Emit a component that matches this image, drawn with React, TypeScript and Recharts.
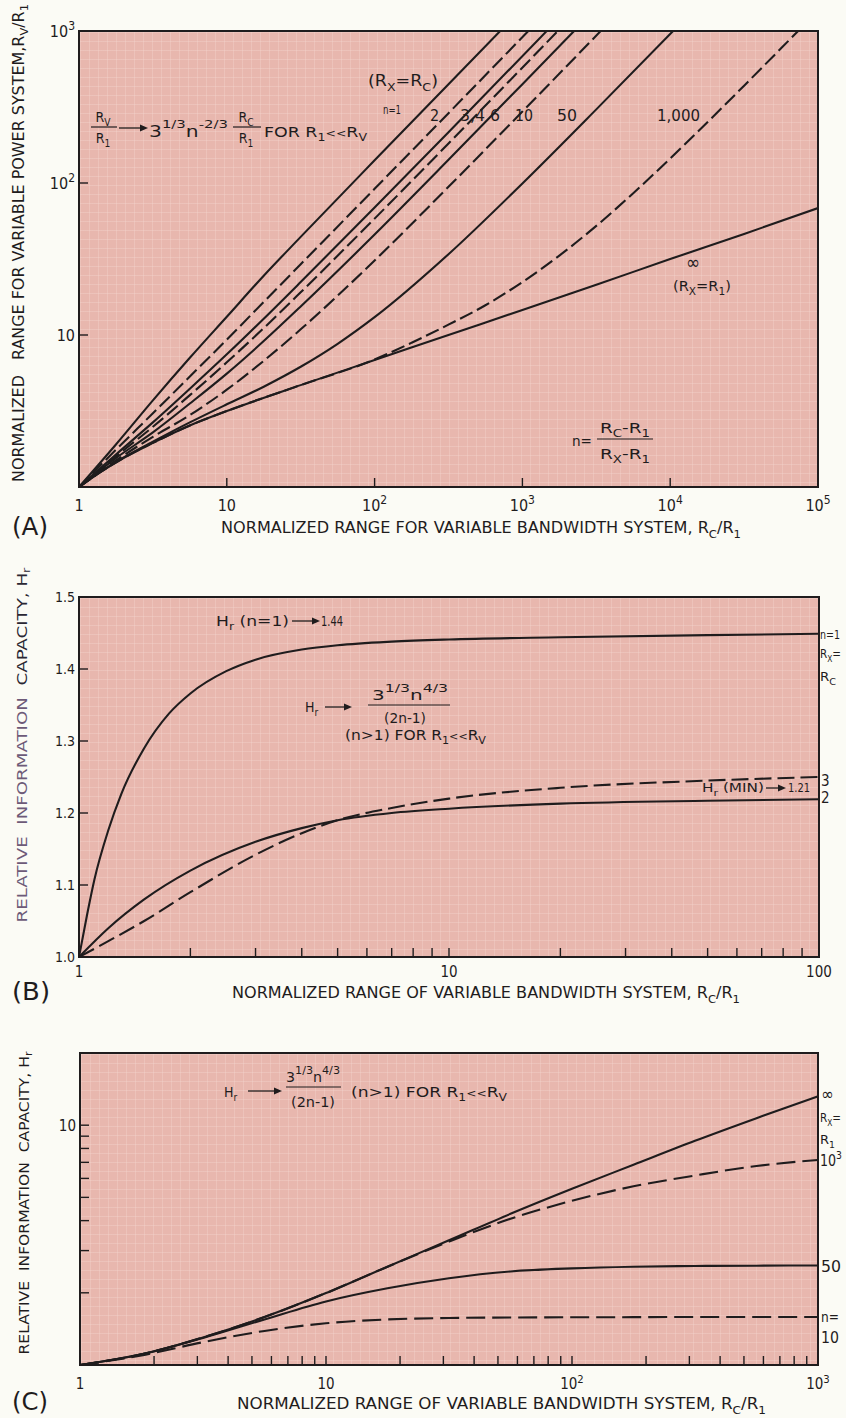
import React from "react";
import { LineChart, Line, XAxis, YAxis } from "recharts";

const INK = "#1f1c1d";
const PAPER = "#e8b7ae";
const FONT =
  '"DejaVu Sans Condensed", "Liberation Sans Narrow", "Roboto Condensed", "DejaVu Sans", sans-serif';

// ---------- (A) normalized range, variable power vs variable bandwidth ----------
const aMajorX = [1, 10, 100, 1000, 10000, 100000];
const aMajorXLabels = ["1", "10", "10^2", "10^3", "10^4", "10^5"];
const aMajorY = [10, 100, 1000];
const aMajorYLabels = ["10", "10^2", "10^3"];

const aN1Rc = [1, 1.778, 3.162, 5.623, 10, 17.78, 31.62, 100, 316.2, 724];
const aN1Rv = [1, 1.905, 3.715, 7.08, 13.18, 24.55, 44.2, 141, 447, 1023];
const aN2Rc = [1, 1.778, 3.162, 5.623, 10, 17.78, 31.62, 100, 316.2, 1122];
const aN2Rv = [1, 1.758, 3.055, 5.33, 9.33, 16.5, 29.2, 91.6, 288, 1023];
const aN3Rc = [1, 1.778, 3.162, 5.623, 10, 17.78, 31.62, 100, 316.2, 1479];
const aN3Rv = [1, 1.637, 2.661, 4.43, 7.46, 12.8, 22.3, 69.0, 216, 1012];
const aN4Rc = [1, 1.778, 3.162, 5.623, 10, 17.78, 31.62, 100, 316.2, 1758];
const aN4Rv = [1, 1.589, 2.489, 4.02, 6.61, 11.1, 19.1, 58.3, 182, 1012];
const aN6Rc = [1, 1.778, 3.162, 5.623, 10, 17.78, 31.62, 100, 316.2, 1000, 2265];
const aN6Rv = [1, 1.549, 2.286, 3.54, 5.57, 9.12, 15.4, 45.8, 142, 447, 1012];
const aN10Rc = [1, 1.778, 3.162, 5.623, 10, 17.78, 31.62, 100, 316.2, 1000, 3428];
const aN10Rv = [1, 1.496, 2.138, 2.97, 4.365, 6.76, 10.9, 30.9, 94.4, 295, 1012];
const aN50Rc = [1, 1.778, 3.162, 5.623, 10, 17.78, 31.62, 56.23, 100, 316.2, 1000, 3162, 11220];
const aN50Rv = [1, 1.462, 1.986, 2.66, 3.5, 4.57, 6.18, 8.75, 13.1, 34.0, 99.3, 305, 1072];
const aN1000Rc = [1, 1.41, 2, 3.16, 5.62, 10, 31.6, 100, 178, 316, 562, 1000, 1778, 3162, 5623, 10000, 17783, 31623, 56234, 79433];
const aN1000Rv = [1, 1.26, 1.55, 1.95, 2.54, 3.16, 4.68, 6.9, 8.9, 11.7, 15.7, 22.3, 33.3, 52.2, 85.7, 145, 250, 437, 769, 1081];
const aInfRc = [1, 1.41, 2, 3.16, 5.62, 10, 31.6, 100, 316, 1000, 3162, 10000, 31623, 100000];
const aInfRv = [1, 1.26, 1.55, 1.95, 2.54, 3.16, 4.68, 6.84, 10, 14.6, 21.4, 31.6, 46.2, 68.4];

// ---------- (B) relative information capacity, small n ----------
const bMajorX = [1, 10, 100];
const bMajorXLabels = ["1", "10", "100"];
const bMinorX = [2, 3, 4, 5, 6, 7, 8, 9, 20, 30, 40, 50, 60, 70, 80, 90];
const bMajorY = [1.0, 1.1, 1.2, 1.3, 1.4, 1.5];
const bMajorYLabels = ["1.0", "1.1", "1.2", "1.3", "1.4", "1.5"];

const bN1Rc = [1, 1.05, 1.1, 1.2, 1.3, 1.5, 1.75, 2, 2.5, 3, 4, 5, 7, 10, 20, 50, 100];
const bN1H = [1.0, 1.057, 1.107, 1.176, 1.226, 1.29, 1.338, 1.366, 1.397, 1.413, 1.427, 1.433, 1.438, 1.441, 1.444, 1.447, 1.449];
const bRc = [1, 1.2, 1.5, 2, 3, 4, 5, 7, 10, 20, 50, 100];
const bN2H = [1.0, 1.04, 1.08, 1.12, 1.16, 1.179, 1.19, 1.2, 1.206, 1.213, 1.217, 1.219];
const bN3H = [1.0, 1.022, 1.05, 1.09, 1.142, 1.172, 1.19, 1.207, 1.22, 1.235, 1.245, 1.25];

// ---------- (C) relative information capacity, large n ----------
const cMajorX = [1, 10, 100, 1000];
const cMajorXLabels = ["1", "10", "10^2", "10^3"];
const cMinorX = [2, 3, 4, 5, 6, 7, 8, 9, 20, 30, 40, 50, 60, 70, 80, 90, 200, 300, 400, 500, 600, 700, 800, 900];
const cMajorY = [10];
const cMajorYLabels = ["10"];
const cMinorY = [2, 3, 4, 5, 6, 7, 8, 9];

const cRc = [1, 1.778, 3.162, 5.623, 10, 17.78, 31.62, 56.23, 100, 177.8, 316.2, 562.3, 1000];
const cInfH = [1, 1.109, 1.303, 1.585, 1.995, 2.57, 3.31, 4.27, 5.43, 6.84, 8.61, 10.7, 13.2];
const c1000H = [1, 1.109, 1.303, 1.585, 1.995, 2.57, 3.27, 4.07, 4.84, 5.56, 6.17, 6.76, 7.16];
const c50H = [1, 1.109, 1.297, 1.549, 1.841, 2.089, 2.301, 2.455, 2.529, 2.57, 2.588, 2.595, 2.6];
const c10H = [1, 1.096, 1.245, 1.387, 1.493, 1.549, 1.57, 1.578, 1.581, 1.583, 1.585, 1.585, 1.585];

const pts = (xs: number[], ys: number[]) => xs.map((x, i) => ({ x, y: ys[i] }));

// plot frames on the page
const RA = { l: 79, t: 31, r: 818, b: 487, top: 0, h: 522 };
const RB = { l: 79, t: 597, r: 819, b: 957, top: 560, h: 432 };
const RC = { l: 80, t: 1053, r: 818, b: 1365, top: 1018, h: 385 };

function tickText(label: string, size: number) {
  const [base, sup] = label.split("^");
  return (
    <>
      {base}
      {sup && (
        <tspan dy={-size * 0.42} fontSize={size * 0.75}>
          {sup}
        </tspan>
      )}
    </>
  );
}

const labelFor = (v: number, major: number[], labels: string[]) => {
  const i = major.findIndex((m) => Math.abs(m - v) < 1e-9);
  return i >= 0 ? labels[i] : "";
};

const makeXTick =
  (major: number[], labels: string[], size: number, off: number) => (p: any) => {
    const label = labelFor(p.payload.value, major, labels);
    return (
      <g>
        <line x1={p.x} x2={p.x} y1={p.y} y2={p.y - 9} stroke={INK} strokeWidth={1.4} />
        {label && (
          <text x={p.x} y={p.y + off} textAnchor="middle" fontSize={size} fontFamily={FONT} fill={INK}>
            {tickText(label, size)}
          </text>
        )}
      </g>
    );
  };

const makeYTick = (major: number[], labels: string[], size: number) => (p: any) => {
  const label = labelFor(p.payload.value, major, labels);
  return (
    <g>
      <line x1={p.x} x2={p.x + 9} y1={p.y} y2={p.y} stroke={INK} strokeWidth={1.4} />
      {label && (
        <text x={p.x - 4} y={p.y + size * 0.36} textAnchor="end" fontSize={size} fontFamily={FONT} fill={INK}>
          {tickText(label, size)}
        </text>
      )}
    </g>
  );
};

function Paper({ r }: { r: { l: number; t: number; r: number; b: number } }) {
  return (
    <div
      style={{
        position: "absolute",
        left: r.l - 1,
        top: r.t - 1,
        width: r.r - r.l + 2,
        height: r.b - r.t + 2,
        boxSizing: "border-box",
        border: `2px solid ${INK}`,
        backgroundColor: PAPER,
        backgroundImage:
          "linear-gradient(rgba(250,224,216,0.28) 1px, transparent 1px), linear-gradient(90deg, rgba(250,224,216,0.28) 1px, transparent 1px)",
        backgroundSize: "9px 9px",
      }}
    />
  );
}

function Panel({ r, children }: any) {
  return (
    <div style={{ position: "absolute", left: 0, top: r.top }}>
      <LineChart
        width={846}
        height={r.h}
        margin={{ top: r.t - r.top, right: 846 - r.r, bottom: 0, left: 0 }}
      >
        {children}
      </LineChart>
    </div>
  );
}

const lineProps = {
  dataKey: "y",
  type: "monotone" as const,
  stroke: INK,
  strokeWidth: 2.1,
  dot: false,
  isAnimationActive: false,
};

const Sub = ({ t, s, d }: { t: string; s: number; d?: number }) => (
  <tspan dy={d ?? s * 0.3} fontSize={s * 0.72}>
    {t}
  </tspan>
);

function Arrow({ x1, x2, y }: { x1: number; x2: number; y: number }) {
  return (
    <g>
      <line x1={x1} x2={x2 - 6} y1={y} y2={y} stroke={INK} strokeWidth={1.3} />
      <polygon points={`${x2 - 8},${y - 3.5} ${x2},${y} ${x2 - 8},${y + 3.5}`} fill={INK} />
    </g>
  );
}

function Texts() {
  const f = { fontFamily: FONT, fill: INK } as any;
  const fit = { lengthAdjust: "spacingAndGlyphs" } as any;
  return (
    <svg
      width={846}
      height={1418}
      style={{ position: "absolute", left: 0, top: 0, pointerEvents: "none" }}
    >
      {/* ---------- (A) ---------- */}
      <text {...f} {...fit} x={19} y={243} fontSize={15} textAnchor="middle" dominantBaseline="central"
        transform="rotate(-90 19 243)" textLength={478} style={{ whiteSpace: "pre" }}>
        NORMALIZED   RANGE FOR VARIABLE POWER SYSTEM,R<Sub t="V" s={15} />
        <tspan dy={-4.5}>/R</tspan>
        <Sub t="1" s={15} />
      </text>
      <text {...f} {...fit} x={221} y={533} fontSize={15} textLength={520}>
        NORMALIZED RANGE FOR VARIABLE BANDWIDTH SYSTEM, R<Sub t="C" s={15} />
        <tspan dy={-4.5}>/R</tspan>
        <Sub t="1" s={15} />
      </text>
      <text {...f} {...fit} x={12} y={535} fontSize={24} textLength={36}>(A)</text>

      {/* formula */}
      <text {...f} x={103} y={122} fontSize={14} textAnchor="middle">R<Sub t="V" s={14} /></text>
      <line x1={91} x2={117} y1={127} y2={127} stroke={INK} strokeWidth={1.2} />
      <text {...f} x={103} y={143} fontSize={14} textAnchor="middle">R<Sub t="1" s={14} /></text>
      <Arrow x1={119} x2={148} y={128} />
      <text {...f} {...fit} x={149} y={137} fontSize={15} textLength={79}>
        3<tspan dy={-9} fontSize={11}>1/3</tspan>
        <tspan dy={9}>n</tspan>
        <tspan dy={-9} fontSize={11}>-2/3</tspan>
      </text>
      <text {...f} x={246} y={122} fontSize={14} textAnchor="middle">R<Sub t="C" s={14} /></text>
      <line x1={233} x2={261} y1={127} y2={127} stroke={INK} strokeWidth={1.2} />
      <text {...f} x={246} y={143} fontSize={14} textAnchor="middle">R<Sub t="1" s={14} /></text>
      <text {...f} {...fit} x={264} y={137} fontSize={14} textLength={103}>
        FOR R<Sub t="1" s={14} />
        <tspan dy={-4.2} fontSize={10}>{"<<"}</tspan>
        <tspan fontSize={14}>R</tspan>
        <Sub t="V" s={14} />
      </text>

      <text {...f} {...fit} x={368} y={86} fontSize={15} textLength={70}>
        (R<Sub t="X" s={15} />
        <tspan dy={-4.5}>=R</tspan>
        <Sub t="C" s={15} />
        <tspan dy={-4.5}>)</tspan>
      </text>
      <text {...f} {...fit} x={383} y={114} fontSize={12} textLength={18}>n=1</text>
      <text {...f} x={430} y={121} fontSize={16}>2</text>
      <text {...f} {...fit} x={460} y={121} fontSize={16} textLength={40} style={{ whiteSpace: "pre" }}>3,4 6</text>
      <text {...f} {...fit} x={515} y={121} fontSize={16} textLength={18}>10</text>
      <text {...f} {...fit} x={557} y={121} fontSize={16} textLength={20}>50</text>
      <text {...f} {...fit} x={657} y={121} fontSize={16} textLength={43}>1,000</text>
      <text {...f} x={686} y={269} fontSize={19}>∞</text>
      <text {...f} {...fit} x={673} y={291} fontSize={14} textLength={58}>
        (R<Sub t="X" s={14} />
        <tspan dy={-4.2}>=R</tspan>
        <Sub t="1" s={14} />
        <tspan dy={-4.2}>)</tspan>
      </text>
      <text {...f} {...fit} x={572} y={446} fontSize={14} textLength={20}>n=</text>
      <text {...f} {...fit} x={625} y={433} fontSize={14} textAnchor="middle" textLength={50}>
        R<Sub t="C" s={14} />
        <tspan dy={-4.2}>-R</tspan>
        <Sub t="1" s={14} />
      </text>
      <line x1={597} x2={653} y1={439} y2={439} stroke={INK} strokeWidth={1.2} />
      <text {...f} {...fit} x={625} y={459} fontSize={14} textAnchor="middle" textLength={50}>
        R<Sub t="X" s={14} />
        <tspan dy={-4.2}>-R</tspan>
        <Sub t="1" s={14} />
      </text>

      {/* ---------- (B) ---------- */}
      <text {...f} {...fit} x={22} y={745} fontSize={14} textAnchor="middle" dominantBaseline="central"
        transform="rotate(-90 22 745)" textLength={355} style={{ whiteSpace: "pre" }}>
        <tspan fill="#6d5a78">RELATIVE  INFORMATION  </tspan>
        <tspan fill="#2a2733">CAPACITY, H</tspan>
        <tspan fill="#2a2733" dy={4} fontSize={10}>r</tspan>
      </text>
      <text {...f} {...fit} x={232} y={998} fontSize={15} textLength={508}>
        NORMALIZED RANGE OF VARIABLE BANDWIDTH SYSTEM, R<Sub t="C" s={15} />
        <tspan dy={-4.5}>/R</tspan>
        <Sub t="1" s={15} />
      </text>
      <text {...f} {...fit} x={12} y={1000} fontSize={24} textLength={38}>(B)</text>

      <text {...f} {...fit} x={216} y={626} fontSize={14} textLength={73}>
        H<Sub t="r" s={14} />
        <tspan dy={-4.2}> (n=1)</tspan>
      </text>
      <Arrow x1={292} x2={320} y={621} />
      <text {...f} {...fit} x={321} y={626} fontSize={14} textLength={22}>1.44</text>

      <text {...f} x={305} y={712} fontSize={14}>H<Sub t="r" s={14} /></text>
      <Arrow x1={325} x2={352} y={707} />
      <text {...f} {...fit} x={410} y={700} fontSize={14} textAnchor="middle" textLength={76}>
        3<tspan dy={-8} fontSize={11}>1/3</tspan>
        <tspan dy={8}>n</tspan>
        <tspan dy={-8} fontSize={11}>4/3</tspan>
      </text>
      <line x1={368} x2={450} y1={705} y2={705} stroke={INK} strokeWidth={1.2} />
      <text {...f} {...fit} x={405} y={723} fontSize={14} textAnchor="middle" textLength={42}>(2n-1)</text>
      <text {...f} {...fit} x={345} y={740} fontSize={14} textLength={141}>
        (n&gt;1) FOR R<Sub t="1" s={14} />
        <tspan dy={-4.2} fontSize={10}>{"<<"}</tspan>
        <tspan fontSize={14}>R</tspan>
        <Sub t="V" s={14} />
      </text>

      <text {...f} {...fit} x={702} y={792} fontSize={13} textLength={62}>
        H<Sub t="r" s={13} />
        <tspan dy={-3.9}> (MIN)</tspan>
      </text>
      <Arrow x1={766} x2={786} y={788} />
      <text {...f} {...fit} x={788} y={792} fontSize={13} textLength={22}>1.21</text>

      <text {...f} {...fit} x={820} y={639} fontSize={13} textLength={20}>n=1</text>
      <text {...f} {...fit} x={820} y={658} fontSize={13} textLength={21}>R<Sub t="X" s={13} /><tspan dy={-3.9}>=</tspan></text>
      <text {...f} {...fit} x={820} y={681} fontSize={13} textLength={16}>R<Sub t="C" s={13} /></text>
      <text {...f} x={821} y={786} fontSize={15}>3</text>
      <text {...f} x={821} y={803} fontSize={15}>2</text>

      {/* ---------- (C) ---------- */}
      <text {...f} {...fit} x={24} y={1203} fontSize={14} textAnchor="middle" dominantBaseline="central"
        transform="rotate(-90 24 1203)" textLength={303} style={{ whiteSpace: "pre" }}>
        RELATIVE  INFORMATION  CAPACITY, H<tspan dy={4} fontSize={10}>r</tspan>
      </text>
      <text {...f} {...fit} x={237} y={1409} fontSize={15} textLength={529}>
        NORMALIZED RANGE OF VARIABLE BANDWIDTH SYSTEM, R<Sub t="C" s={15} />
        <tspan dy={-4.5}>/R</tspan>
        <Sub t="1" s={15} />
      </text>
      <text {...f} {...fit} x={12} y={1410} fontSize={24} textLength={36}>(C)</text>

      <text {...f} x={224} y={1097} fontSize={14}>H<Sub t="r" s={14} /></text>
      <Arrow x1={248} x2={282} y={1091} />
      <text {...f} {...fit} x={313} y={1082} fontSize={14} textAnchor="middle" textLength={54}>
        3<tspan dy={-8} fontSize={11}>1/3</tspan>
        <tspan dy={8}>n</tspan>
        <tspan dy={-8} fontSize={11}>4/3</tspan>
      </text>
      <line x1={286} x2={341} y1={1087} y2={1087} stroke={INK} strokeWidth={1.2} />
      <text {...f} {...fit} x={313} y={1107} fontSize={14} textAnchor="middle" textLength={44}>(2n-1)</text>
      <text {...f} {...fit} x={351} y={1097} fontSize={14} textLength={156}>
        (n&gt;1) FOR R<Sub t="1" s={14} />
        <tspan dy={-4.2} fontSize={10}>{"<<"}</tspan>
        <tspan fontSize={14}>R</tspan>
        <Sub t="V" s={14} />
      </text>

      <text {...f} x={821} y={1100} fontSize={17}>∞</text>
      <text {...f} {...fit} x={820} y={1122} fontSize={13} textLength={21}>R<Sub t="X" s={13} /><tspan dy={-3.9}>=</tspan></text>
      <text {...f} {...fit} x={820} y={1144} fontSize={13} textLength={15}>R<Sub t="1" s={13} /></text>
      <text {...f} {...fit} x={820} y={1166} fontSize={15} textLength={22}>10<tspan dy={-7} fontSize={11}>3</tspan></text>
      <text {...f} {...fit} x={821} y={1272} fontSize={15} textLength={20}>50</text>
      <text {...f} {...fit} x={821} y={1322} fontSize={14} textLength={18}>n=</text>
      <text {...f} {...fit} x={821} y={1343} fontSize={15} textLength={18}>10</text>
    </svg>
  );
}

export default function App() {
  return (
    <div
      style={{
        position: "absolute",
        left: 0,
        top: 0,
        width: 846,
        height: 1418,
        background: "#fbfbf5",
        overflow: "hidden",
      }}
    >
      <Paper r={RA} />
      <Paper r={RB} />
      <Paper r={RC} />

      <Panel r={RA}>
        <XAxis
          dataKey="x"
          type="number"
          scale="log"
          domain={[1, 100000]}
          allowDataOverflow
          ticks={aMajorX}
          interval={0}
          height={RA.top + RA.h - RA.b}
          axisLine={false}
          tickLine={false}
          tickSize={0}
          tickMargin={0}
          tick={makeXTick(aMajorX, aMajorXLabels, 16, 24)}
        />
        <YAxis
          type="number"
          scale="log"
          domain={[1, 1000]}
          allowDataOverflow
          ticks={aMajorY}
          interval={0}
          width={RA.l}
          axisLine={false}
          tickLine={false}
          tickSize={0}
          tickMargin={0}
          tick={makeYTick(aMajorY, aMajorYLabels, 16)}
        />
        <Line {...lineProps} data={pts(aInfRc, aInfRv)} />
        <Line {...lineProps} data={pts(aN1000Rc, aN1000Rv)} strokeDasharray="14 5" />
        <Line {...lineProps} data={pts(aN50Rc, aN50Rv)} />
        <Line {...lineProps} data={pts(aN10Rc, aN10Rv)} strokeDasharray="14 5" />
        <Line {...lineProps} data={pts(aN6Rc, aN6Rv)} />
        <Line {...lineProps} data={pts(aN4Rc, aN4Rv)} strokeDasharray="14 5" />
        <Line {...lineProps} data={pts(aN3Rc, aN3Rv)} />
        <Line {...lineProps} data={pts(aN2Rc, aN2Rv)} strokeDasharray="14 5" />
        <Line {...lineProps} data={pts(aN1Rc, aN1Rv)} />
      </Panel>

      <Panel r={RB}>
        <XAxis
          dataKey="x"
          type="number"
          scale="log"
          domain={[1, 100]}
          allowDataOverflow
          ticks={[...bMajorX, ...bMinorX]}
          interval={0}
          height={RB.top + RB.h - RB.b}
          axisLine={false}
          tickLine={false}
          tickSize={0}
          tickMargin={0}
          tick={makeXTick(bMajorX, bMajorXLabels, 15, 20)}
        />
        <YAxis
          type="number"
          domain={[1, 1.5]}
          allowDataOverflow
          ticks={bMajorY}
          interval={0}
          width={RB.l}
          axisLine={false}
          tickLine={false}
          tickSize={0}
          tickMargin={0}
          tick={makeYTick(bMajorY, bMajorYLabels, 14)}
        />
        <Line {...lineProps} data={pts(bN1Rc, bN1H)} />
        <Line {...lineProps} data={pts(bRc, bN2H)} />
        <Line {...lineProps} data={pts(bRc, bN3H)} strokeDasharray="17 6" />
      </Panel>

      <Panel r={RC}>
        <XAxis
          dataKey="x"
          type="number"
          scale="log"
          domain={[1, 1000]}
          allowDataOverflow
          ticks={[...cMajorX, ...cMinorX]}
          interval={0}
          height={RC.top + RC.h - RC.b}
          axisLine={false}
          tickLine={false}
          tickSize={0}
          tickMargin={0}
          tick={makeXTick(cMajorX, cMajorXLabels, 15, 24)}
        />
        <YAxis
          type="number"
          scale="log"
          domain={[1, 20]}
          allowDataOverflow
          ticks={[...cMajorY, ...cMinorY]}
          interval={0}
          width={RC.l}
          axisLine={false}
          tickLine={false}
          tickSize={0}
          tickMargin={0}
          tick={makeYTick(cMajorY, cMajorYLabels, 15)}
        />
        <Line {...lineProps} data={pts(cRc, cInfH)} />
        <Line {...lineProps} data={pts(cRc, c1000H)} strokeDasharray="19 7" />
        <Line {...lineProps} data={pts(cRc, c50H)} />
        <Line {...lineProps} data={pts(cRc, c10H)} strokeDasharray="19 7" />
      </Panel>

      <Texts />
    </div>
  );
}
